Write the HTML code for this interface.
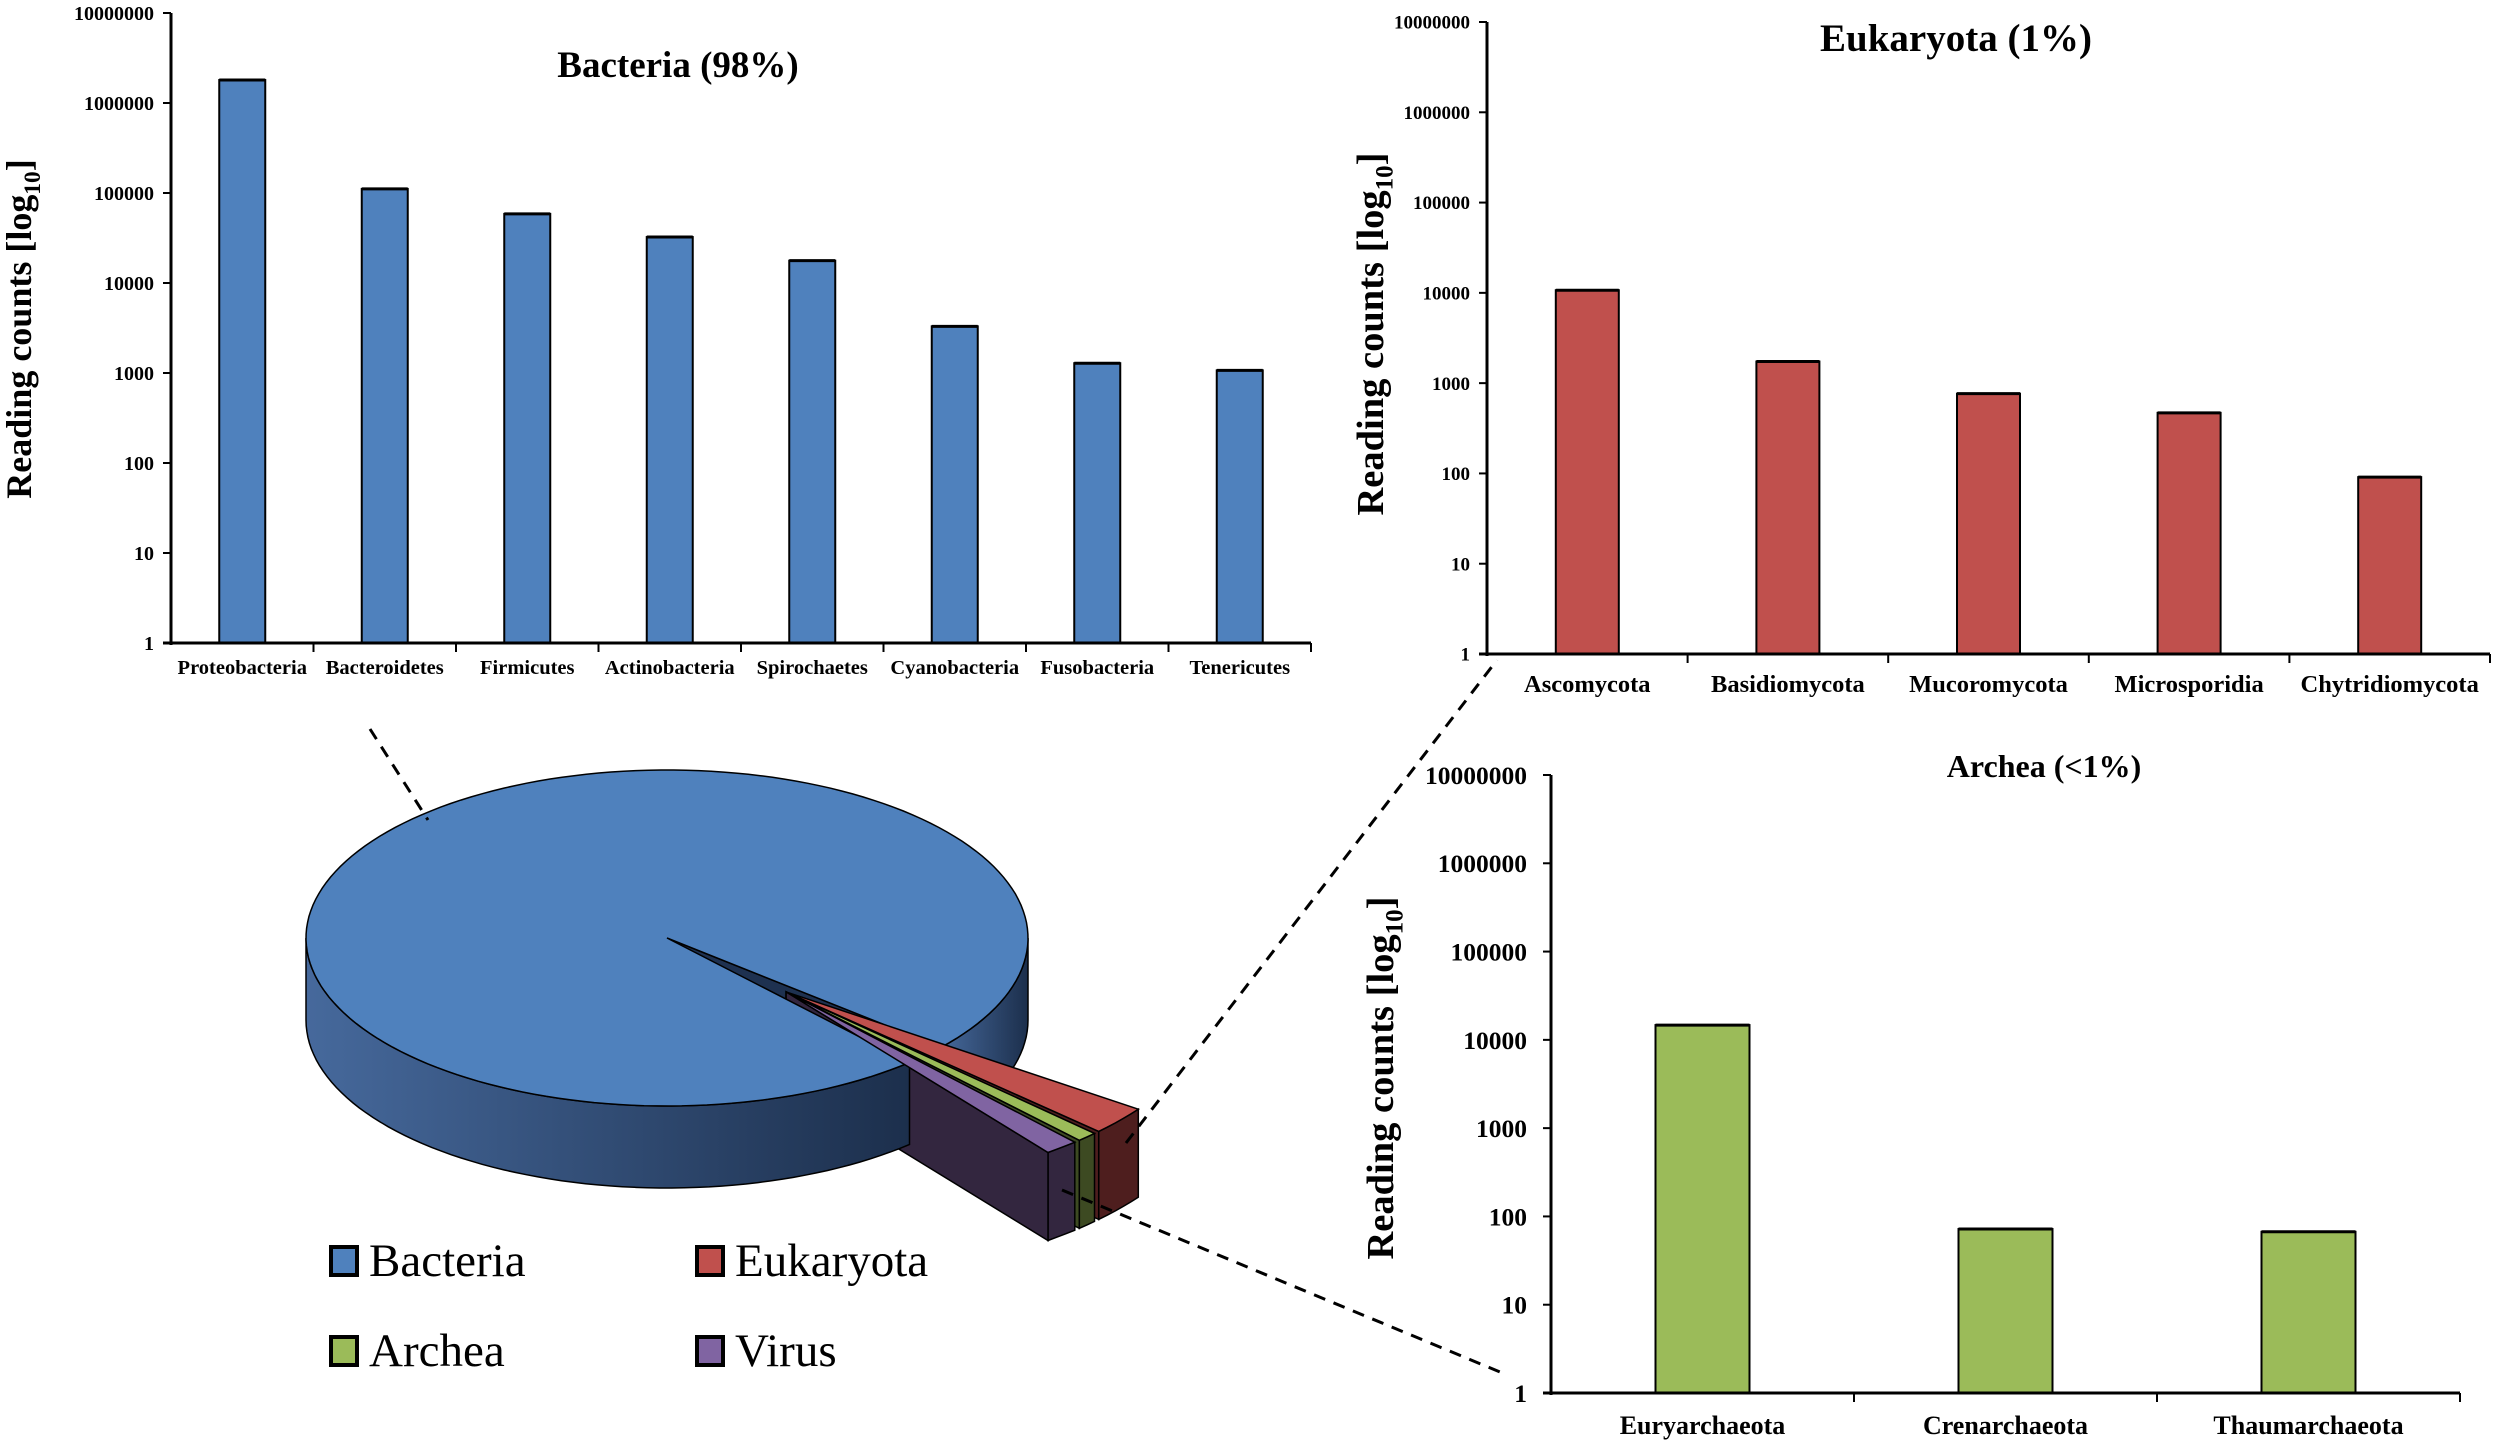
<!DOCTYPE html>
<html><head><meta charset="utf-8"><style>
html,body{margin:0;padding:0;background:#fff;}
svg{display:block;font-family:"Liberation Serif",serif;}
</style></head><body>
<svg id="fig" width="2500" height="1445" viewBox="0 0 2500 1445" xmlns="http://www.w3.org/2000/svg">
<defs>
<linearGradient id="rimGrad" x1="0" y1="0" x2="1" y2="0">
<stop offset="0" stop-color="#46699c"/><stop offset="1" stop-color="#1c2f4c"/>
</linearGradient>
</defs>
<g id="bact"></g>
<g id="euk"></g>
<g id="arch"></g>
<g id="pie"></g>
<g id="links">
<line x1="370" y1="729" x2="428" y2="820" stroke="#000" stroke-width="3" stroke-dasharray="12,9"/>
<line x1="1126" y1="1143" x2="1497" y2="660" stroke="#000" stroke-width="3" stroke-dasharray="12,9"/>
<line x1="1062" y1="1190" x2="1500" y2="1372" stroke="#000" stroke-width="3" stroke-dasharray="12,9"/>
</g>
<g id="legend"></g>
</svg>
<script>
const tickLabels = ["1","10","100","1000","10000","100000","1000000","10000000"];
const bacteriaCategories = ["Proteobacteria","Bacteroidetes","Firmicutes","Actinobacteria","Spirochaetes","Cyanobacteria","Fusobacteria","Tenericutes"];
const bacteriaValues = [1800000,111000,58600,32400,17700,3300,1285,1070];
const eukaryotaCategories = ["Ascomycota","Basidiomycota","Mucoromycota","Microsporidia","Chytridiomycota"];
const eukaryotaValues = [10700,1735,765,469,91];
const archeaCategories = ["Euryarchaeota","Crenarchaeota","Thaumarchaeota"];
const archeaValues = [14700,72,67];
const pieLabels = ["Bacteria","Eukaryota","Archea","Virus"];
const pieValues = [98,1,0.4,0.6];

const NS="http://www.w3.org/2000/svg";
function mk(parent,tag,attrs,text){
  const e=document.createElementNS(NS,tag);
  for(const k in attrs) e.setAttribute(k,attrs[k]);
  if(text!==undefined) e.textContent=text;
  parent.appendChild(e); return e;
}

function barChart(g,cfg,cats,vals){
  const decade=(cfg.yBot-cfg.yTop)/7;
  const yOf=v=>cfg.yBot-Math.log10(v)*decade;
  const cw=(cfg.x1-cfg.x0)/cats.length;
  cats.forEach((c,i)=>{
    const cx=cfg.x0+cw*(i+0.5), y=yOf(vals[i]);
    const r=mk(g,"rect",{x:cx-cfg.barW/2,y:y,width:cfg.barW,height:cfg.yBot-y,fill:cfg.color,stroke:"#000","stroke-width":2});
    
    
    const t=mk(g,"line",{x1:cx-cfg.barW/2,x2:cx+cfg.barW/2,y1:y,y2:y,stroke:"#000","stroke-width":3});
    
    
    const l=mk(g,"text",{x:cx,y:cfg.catY,"text-anchor":"middle","font-size":cfg.catFont,"font-weight":"bold"},c);
    
    
  });
  const ya=mk(g,"line",{x1:cfg.x0,x2:cfg.x0,y1:cfg.yTop,y2:cfg.yBot+2,stroke:"#000","stroke-width":3});
  
  
  const xa=mk(g,"line",{x1:cfg.x0-8,x2:cfg.x1,y1:cfg.yBot,y2:cfg.yBot,stroke:"#000","stroke-width":3});
  
  
  for(let i=1;i<=cats.length;i++){
    const x=cfg.x0+cw*i;
    const tk=mk(g,"line",{x1:x,x2:x,y1:cfg.yBot,y2:cfg.yBot+9,stroke:"#000","stroke-width":2});
    
    
  }
  tickLabels.forEach((lab,i)=>{
    const y=cfg.yBot-i*decade;
    const tk=mk(g,"line",{x1:cfg.x0-8,x2:cfg.x0,y1:y,y2:y,stroke:"#000","stroke-width":2});
    
    
    const t=mk(g,"text",{x:cfg.x0-cfg.labGap,y:y+cfg.tickFont*0.35,"text-anchor":"end","font-size":cfg.tickFont,"font-weight":"bold"},lab);
    
    
  });
  const ti=mk(g,"text",{x:cfg.titleX,y:cfg.titleY,"text-anchor":"middle","font-size":cfg.titleFont,"font-weight":"bold"},cfg.title);
  
  
  const yt=mk(g,"text",{transform:`translate(${cfg.ytX},${cfg.ytY}) rotate(-90)`,"text-anchor":"middle","font-size":cfg.ytFont,"font-weight":"bold"});
  
  
  mk(yt,"tspan",{},"Reading counts [log");
  mk(yt,"tspan",{"font-size":cfg.ytFont*0.65,dy:cfg.ytFont*0.25},"10");
  mk(yt,"tspan",{dy:-cfg.ytFont*0.25},"]");
}

barChart(document.getElementById("bact"),{x0:171,x1:1311,yTop:13,yBot:643,barW:46,color:"#4f81bd",catFont:20.5,catY:674,tickFont:20,labGap:17,title:"Bacteria (98%)",titleX:678,titleY:77,titleFont:37,ytX:31,ytY:329,ytFont:36},bacteriaCategories,bacteriaValues);
barChart(document.getElementById("euk"),{x0:1487,x1:2490,yTop:22,yBot:654,barW:63,color:"#c0504d",catFont:24.5,catY:692,tickFont:19,labGap:17,title:"Eukaryota (1%)",titleX:1956,titleY:51,titleFont:39,ytX:1383,ytY:334,ytFont:38.5},eukaryotaCategories,eukaryotaValues);
barChart(document.getElementById("arch"),{x0:1551,x1:2460,yTop:775,yBot:1393,barW:94,color:"#9bbb59",catFont:26,catY:1434,tickFont:25.5,labGap:24,title:"Archea (<1%)",titleX:2044,titleY:777,titleFont:32,ytX:1393,ytY:1078,ytFont:38.5},archeaCategories,archeaValues);

// ---------- 3D pie ----------
const pieColors=["#4f81bd","#c0504d","#9bbb59","#8064a2"];
const pieDark=["#1e3150","#4e1e1e","#3d4a22","#33263f"];
const pg=document.getElementById("pie");
const C={x:667,y:938}, RX=361, RY=168, DEPTH=82;
const total=pieValues.reduce((a,b)=>a+b,0);
const startDeg=40.6;
const D=Math.PI/180;
function P(c,s,t,dy){return [c.x+s*RX*Math.cos(t*D), c.y+s*RY*Math.sin(t*D)+(dy||0)];}
function arc(c,s,t0,t1,dy){const pts=[];const n=Math.max(2,Math.ceil(Math.abs(t1-t0)/2));for(let i=0;i<=n;i++){pts.push(P(c,s,t0+(t1-t0)*i/n,dy));}return pts;}
function poly(pts){return pts.map(p=>p[0].toFixed(1)+","+p[1].toFixed(1)).join(" ");}
const order=[1,2,3,0];
const ranges={};let a=startDeg;
order.forEach(i=>{const span=pieValues[i]/total*360;ranges[i]=[a,a+span];a+=span;});
const [b0,b1]=ranges[0];
// exploded slices drawn with a perspective widening of their angular span
const gapMid=(startDeg+b0)/2, widen=2.5;
const wStart=gapMid-(b0-startDeg)*widen/2;
function rimSeg(s0,s1){
  const pts=arc(C,1,s0,s1,0).concat(arc(C,1,s1,s0,DEPTH));
  const r=mk(pg,"polygon",{points:poly(pts),fill:"url(#rimGrad)",stroke:"#000","stroke-width":1.5});
  
  
}
const cut=mk(pg,"polygon",{points:poly([[C.x,C.y],P(C,1,startDeg),P(C,1,startDeg,DEPTH),[C.x,C.y+DEPTH]]),fill:pieDark[0],stroke:"#000","stroke-width":1.5});


rimSeg(360,b1);
const slices=[];
[1,2,3].forEach((i,k)=>{
  const s0=wStart+(ranges[i][0]-startDeg)*widen+0.4;
  const s1=wStart+(ranges[i][1]-startDeg)*widen-0.4;
  const tm=gapMid;
  const off=0.46;
  const c={x:C.x+off*RX*Math.cos(tm*D), y:C.y+off*RY*Math.sin(tm*D)};
  const S=1.2, dep=88;
  slices.push({i,c,S,s0,s1});
  const rim=arc(c,S,s0,s1,0).concat(arc(c,S,s1,s0,dep));
  const r=mk(pg,"polygon",{points:poly(rim),fill:pieDark[i],stroke:"#000","stroke-width":1.5});
  
  
  const cf=mk(pg,"polygon",{points:poly([[c.x,c.y],P(c,S,s1),P(c,S,s1,dep),[c.x,c.y+dep]]),fill:pieDark[i],stroke:"#000","stroke-width":1.5});
  
  
});
rimSeg(b0,180);
const btop=[[C.x,C.y]].concat(arc(C,1,b0,b1,0));
const bt=mk(pg,"polygon",{points:poly(btop),fill:pieColors[0],stroke:"#000","stroke-width":1.5});


slices.forEach(({i,c,S,s0,s1})=>{
  const top=[[c.x,c.y]].concat(arc(c,S,s0,s1,0));
  const t=mk(pg,"polygon",{points:poly(top),fill:pieColors[i],stroke:"#000","stroke-width":1.5});
  
  
});
// legend
const lg=document.getElementById("legend");
const legPos=[[329,1245],[695,1245],[329,1335],[695,1335]];
pieLabels.forEach((lab,i)=>{
  const [x,y]=legPos[i];
  const sq=mk(lg,"rect",{x:x+2,y:y+2,width:26,height:28,fill:pieColors[i],stroke:"#000","stroke-width":4});
  
  
  const t=mk(lg,"text",{x:x+40,y:y+31,"font-size":47},lab);
  
  
});
</script>
</body></html>
